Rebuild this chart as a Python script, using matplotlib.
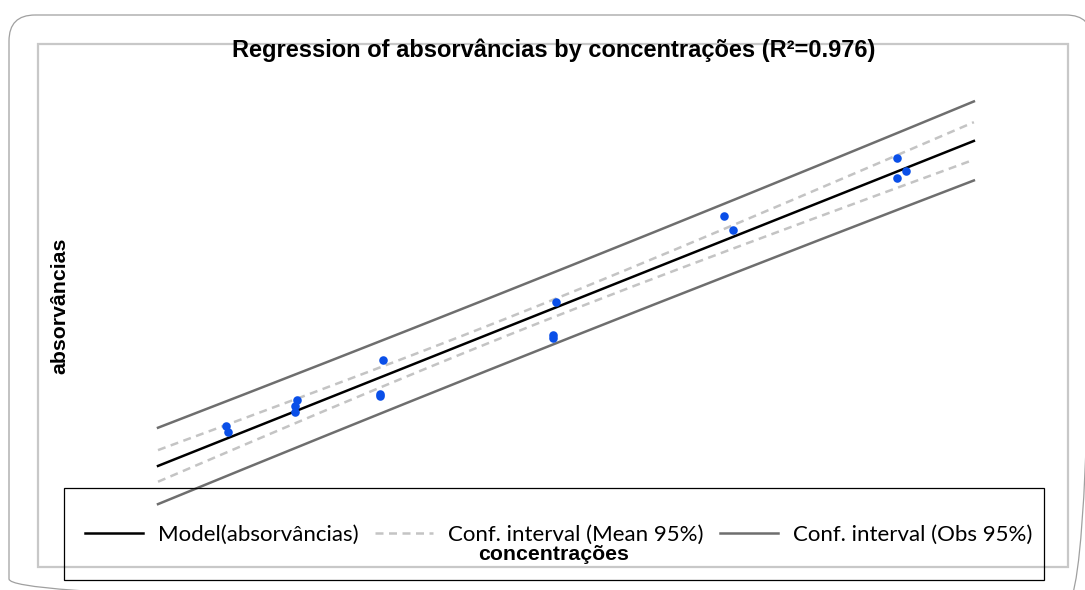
import numpy as np
import matplotlib.pyplot as plt
from matplotlib.lines import Line2D
from matplotlib.patches import Rectangle, FancyBboxPatch
from matplotlib.transforms import Affine2D

W, H = 1085, 590

# observations (concentração, absorvância)
concentracoes = [0.10, 0.11, 0.51, 0.50, 0.50, 1.01, 0.99, 0.99,
                 2.01, 1.99, 1.99, 2.98, 3.03, 3.98, 4.03, 3.98]
absorvancias = [0.174, 0.168, 0.200, 0.194, 0.188, 0.240, 0.206, 0.204,
                0.298, 0.265, 0.262, 0.384, 0.370, 0.442, 0.429, 0.422]

title = "Regression of absorvâncias by concentrações (R²=0.976)"
legend_labels = ["Model(absorvâncias)", "Conf. interval (Mean 95%)",
                 "Conf. interval (Obs 95%)"]
T_975 = 2.1448  # t quantile, df = 14


def fx(px):
    return px / W


def fy(py):
    return 1 - py / H


x = np.array(concentracoes)
y = np.array(absorvancias)
n = len(x)
b1, b0 = np.polyfit(x, y, 1)
resid = y - (b0 + b1 * x)
s = np.sqrt(np.sum(resid**2) / (n - 2))
sxx = np.sum((x - x.mean())**2)

rng = x.max() - x.min()
xs = np.linspace(x.min() - 0.1 * rng, x.max() + 0.1 * rng, 200)
yfit = b0 + b1 * xs
h_mean = T_975 * s * np.sqrt(1 / n + (xs - x.mean())**2 / sxx)
h_obs = T_975 * s * np.sqrt(1 + 1 / n + (xs - x.mean())**2 / sxx)

fig = plt.figure(figsize=(W / 100, H / 100), dpi=100)
ax = fig.add_axes([0, 0, 1, 1])
ax.set_xlim(0.1 - 226 / 173, 0.1 + (W - 226) / 173)
ax.set_ylim(0.6 - H / 1000, 0.6)
ax.axis("off")

# pixel coordinates, origin top-left
pix = Affine2D().scale(1, -1).translate(0, H)

# frames
fig.patches.append(FancyBboxPatch((9, 15), 1083, 590,
                                  boxstyle="round,pad=0,rounding_size=26",
                                  transform=pix, fill=False,
                                  edgecolor="#a0a0a0", lw=0.9))
fig.patches.append(Rectangle((38, 44), 1030, 523, transform=pix, fill=False,
                             edgecolor="#c8c8c8", lw=1.6))

c_mean = "#c4c4c4"
c_obs = "#6e6e6e"
dash = (0, (3.2, 2.2))
ax.plot(xs, yfit + h_obs, color=c_obs, lw=1.8)
ax.plot(xs, yfit - h_obs, color=c_obs, lw=1.8)
ax.plot(xs, yfit + h_mean, color=c_mean, lw=1.8, ls=dash)
ax.plot(xs, yfit - h_mean, color=c_mean, lw=1.8, ls=dash)
ax.plot(xs, yfit, color="black", lw=1.8)
ax.scatter(x, y, s=38, color="#0a4fe8", zorder=5, linewidths=0)

fig.text(fx(554), fy(50), title, ha="center", va="center",
         fontsize=17, fontweight="bold", family="Liberation Sans")
fig.text(fx(60), fy(306), "absorvâncias", ha="center", va="center",
         rotation=90, fontsize=15.3, fontweight="bold", family="Liberation Sans")

# legend box
fig.patches.append(Rectangle((64, 488), 980, 92, transform=pix, fill=False,
                             edgecolor="black", lw=0.9, zorder=6))
handles = [Line2D([], [], color="black", lw=1.8),
           Line2D([], [], color=c_mean, lw=1.8, ls=dash),
           Line2D([], [], color=c_obs, lw=1.8)]
ax.legend(handles, legend_labels, loc="center",
          bbox_to_anchor=(fx(559), fy(535)), bbox_transform=fig.transFigure,
          ncol=3, frameon=False, handlelength=2.6, handletextpad=0.68,
          columnspacing=0.75, prop={"family": "Lato", "size": 16})
fig.text(fx(554), fy(554), "concentrações", ha="center", va="center",
         fontsize=15.3, fontweight="bold", family="Liberation Sans")

fig.savefig("out.png", dpi=100)
